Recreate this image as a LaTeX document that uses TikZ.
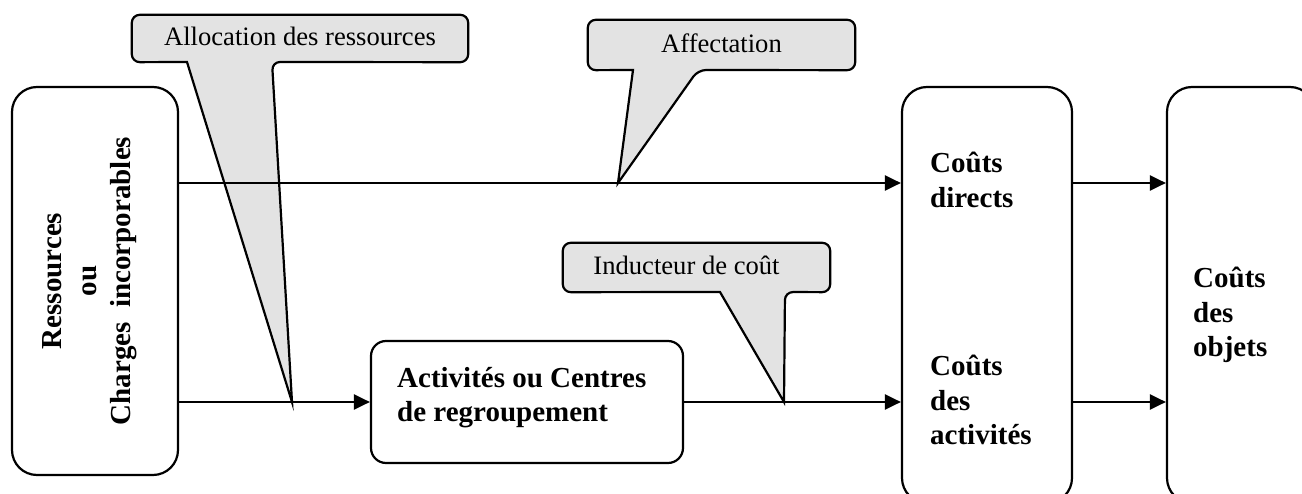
\documentclass[tikz,border=0pt]{standalone}
\usepackage{fontspec}
\setmainfont{Liberation Serif}
\usetikzlibrary{arrows.meta}

\tikzset{
  bigbox/.style={draw, line width=2.2pt, rounded corners=25pt, inner sep=0pt},
  midbox/.style={draw, line width=2.2pt, rounded corners=15pt, inner sep=0pt},
  boldtxt/.style={font=\fontsize{29}{34.5}\selectfont\bfseries, align=left, inner sep=0pt},
  calltxt/.style={font=\fontsize{26.6}{31}\selectfont, inner sep=0pt},
  callout/.style={draw, fill=gray!22, line width=2.2pt, line join=miter},
  arr/.style={line width=2.2pt, -{Triangle[length=16pt,width=15pt]}}
}

\begin{document}
\begin{tikzpicture}[x=1pt, y=-1pt]
  \useasboundingbox (0,0) rectangle (1302,494);
  \clip (0,0) rectangle (1302,494);

  % main blocks
  \node[bigbox, minimum width=166pt, minimum height=388pt] (res) at (95,281) {};
  \node[boldtxt, align=center, rotate=90] (restxt) at (90,281)
    {Ressources\\ou\\Charges\ \ incorporables};

  \node[midbox, minimum width=312pt, minimum height=122pt] (act) at (527,402) {};
  \node[boldtxt, anchor=north west] (acttxt) at (397,367)
    {Activités ou Centres\\de regroupement};

  \node[bigbox, minimum width=170pt, minimum height=416pt] (cout) at (987,295) {};
  \node[boldtxt, anchor=north west] (cdir) at (930,152) {Coûts\\directs};
  \node[boldtxt, anchor=north west] (cact) at (930,355) {Coûts\\des\\activités};

  \node[bigbox, minimum width=148pt, minimum height=416pt] (obj) at (1241,295) {};
  \node[boldtxt, anchor=north west] (cobj) at (1193,267) {Coûts\\des\\objets};

  % points where the callouts touch the flows
  \coordinate (tipA) at (292,402);
  \coordinate (tipB) at (618,183);
  \coordinate (tipC) at (784,402);

  % callout bodies
  \path (300,38.5) node[minimum width=336pt, minimum height=47pt] (alloc) {};
  \path (721.5,45) node[minimum width=267pt, minimum height=50pt] (affect) {};
  \path (696.5,267.5) node[minimum width=267pt, minimum height=49pt] (induct) {};

  \filldraw[callout] (187,62) [rounded corners=8pt] -- (alloc.south west) -- (alloc.north west)
    -- (alloc.north east) -- (alloc.south east) -- (272,62) [sharp corners] -- (tipA) -- cycle;
  \filldraw[callout] (633,70) [rounded corners=8pt] -- (affect.south west) -- (affect.north west)
    -- (affect.north east) -- (affect.south east) -- (698,70) [sharp corners] -- (tipB) -- cycle;
  \filldraw[callout] (720,292) [rounded corners=8pt] -- (induct.south west) -- (induct.north west)
    -- (induct.north east) -- (induct.south east) -- (785,292) [sharp corners] -- (tipC) -- cycle;

  \node[calltxt] (alloctxt) at ([yshift=2pt]alloc.center) {Allocation des ressources};
  \node[calltxt] (affecttxt) at ([yshift=2pt]affect.center) {Affectation};
  \node[calltxt] (inducttxt) at ([xshift=-10pt,yshift=2pt]induct.center) {Inducteur de coût};

  % flows
  \draw[arr] (res.east |- tipB) -- (cout.west |- tipB);
  \draw[arr] (res.east |- tipA) -- (act.west |- tipA);
  \draw[arr] (act.east |- tipC) -- (cout.west |- tipC);
  \draw[arr] (cout.east |- tipB) -- (obj.west |- tipB);
  \draw[arr] (cout.east |- tipC) -- (obj.west |- tipC);
\end{tikzpicture}
\end{document}
